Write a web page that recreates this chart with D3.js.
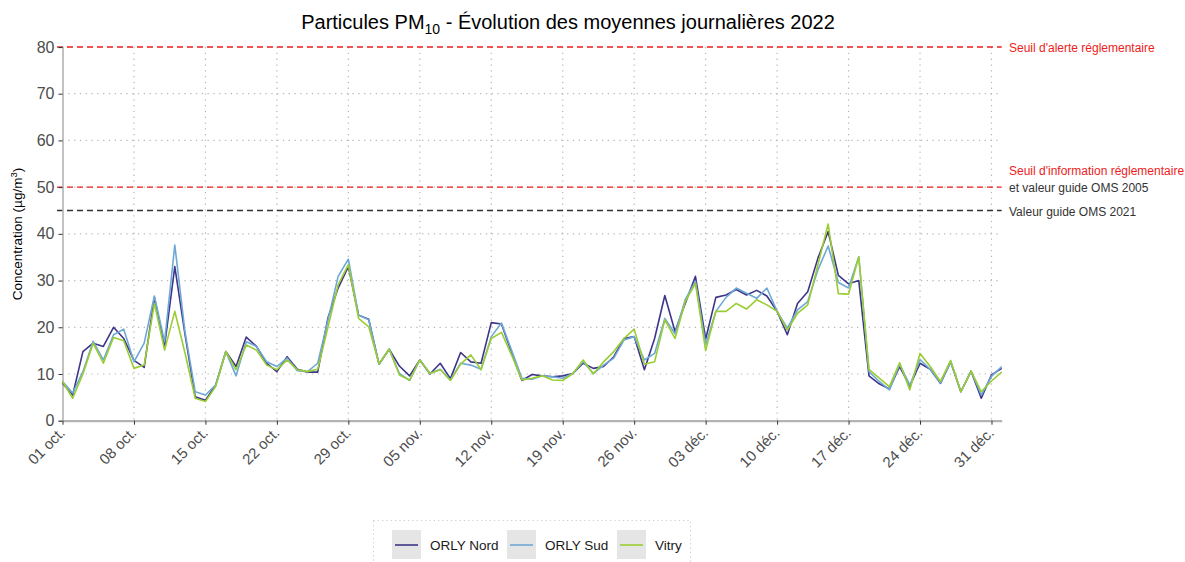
<!DOCTYPE html>
<html>
<head>
<meta charset="utf-8">
<script src="https://cdn.jsdelivr.net/npm/d3@7"></script>
<style>
  body { margin: 0; background: #fff; }
  svg { font-family: "Liberation Sans", Arial, sans-serif; }
</style>
</head>
<body>
<div id="chart"></div>
<script>
// Daily PM10 means, 1 Oct 2022 -> 1 Jan 2023
const startDate = new Date(2022, 9, 1);
const nDays = 93;

const orlyNord = [8.0, 5.5, 14.8, 16.6, 15.9, 20.0, 17.6, 12.9, 11.4, 26.4, 16.0, 33.0, 18.5, 5.1, 4.4, 7.6, 14.8, 11.6, 17.9, 15.9,
  12.3, 10.5, 13.7, 11.0, 10.4, 10.4, 22.0, 28.4, 33.0, 22.6, 21.7, 12.1, 15.3, 11.7, 9.6, 13.0, 10.0, 12.3, 9.0, 14.6,
  12.6, 12.3, 21.0, 20.7, 14.5, 8.6, 9.9, 9.6, 9.4, 9.6, 10.1, 12.3, 11.2, 11.6, 13.7, 17.6, 18.0, 10.9, 17.6, 26.8,
  19.1, 25.1, 30.9, 17.5, 26.4, 26.9, 28.1, 26.9, 27.9, 26.7, 23.4, 18.4, 25.1, 27.6, 34.8, 40.5, 31.1, 29.3, 30.0, 9.6,
  7.9, 6.8, 11.6, 7.4, 12.3, 11.0, 8.0, 12.6, 6.2, 10.6, 4.8, 9.8, 11.2];

const orlySud = [8.4, 5.9, 10.5, 17.0, 13.0, 18.4, 19.6, 12.6, 16.6, 26.7, 16.9, 37.6, 19.0, 6.2, 5.5, 7.6, 14.8, 9.6, 16.9, 15.9,
  12.6, 11.6, 13.4, 10.7, 10.5, 12.3, 21.5, 30.9, 34.6, 22.6, 21.6, 12.1, 15.3, 10.1, 8.6, 13.0, 10.1, 11.0, 8.7, 12.3,
  11.9, 11.0, 18.0, 20.9, 15.0, 9.1, 8.9, 9.6, 9.4, 9.1, 10.1, 12.6, 10.1, 11.9, 13.4, 17.3, 18.0, 13.0, 14.4, 21.9,
  18.6, 25.9, 29.8, 16.3, 23.4, 26.4, 28.4, 27.3, 26.2, 28.4, 23.4, 19.8, 23.7, 25.5, 32.3, 37.4, 29.6, 28.4, 35.1, 10.5,
  8.4, 6.6, 12.1, 7.6, 13.1, 11.0, 8.1, 12.6, 6.2, 10.6, 5.5, 9.5, 11.6];

const vitry = [8.4, 4.8, 10.0, 16.6, 12.3, 17.8, 17.1, 11.2, 11.9, 25.1, 15.1, 23.4, 14.5, 4.8, 4.1, 7.3, 14.8, 10.9, 16.2, 15.1,
  11.9, 10.9, 13.0, 10.9, 10.5, 11.0, 20.0, 29.1, 33.4, 21.9, 20.1, 12.2, 15.3, 9.8, 8.7, 13.0, 10.1, 10.9, 8.6, 12.1,
  14.1, 10.9, 17.6, 18.9, 14.0, 8.7, 9.1, 9.6, 8.7, 8.6, 10.1, 13.0, 10.0, 12.6, 14.8, 17.6, 19.6, 12.1, 12.6, 21.6,
  17.6, 25.5, 29.4, 15.0, 23.4, 23.4, 25.1, 23.9, 25.9, 24.8, 23.4, 19.4, 23.0, 24.8, 33.4, 42.1, 27.2, 27.1, 35.1, 11.0,
  9.1, 7.3, 12.4, 6.6, 14.4, 11.6, 8.4, 12.9, 6.2, 10.6, 6.2, 8.5, 10.4];

const seriesNames = ["ORLY Nord", "ORLY Sud", "Vitry"];
const seriesColors = ["#3d3589", "#6fa8d6", "#9acd32"];

const xTickLabels = ["01 oct.", "08 oct.", "15 oct.", "22 oct.", "29 oct.", "05 nov.", "12 nov.",
  "19 nov.", "26 nov.", "03 déc.", "10 déc.", "17 déc.", "24 déc.", "31 déc."];
const yTicks = [0, 10, 20, 30, 40, 50, 60, 70, 80];

const refLines = [
  { value: 80, color: "#ee1c1c" },
  { value: 50, color: "#ee1c1c" },
  { value: 45, color: "#333333" }
];

const width = 1185, height = 562;
const plotLeft = 62.5, plotRight = 1001.7, plotTop = 47, plotBottom = 420.7;

const dates = d3.range(nDays).map(i => d3.timeDay.offset(startDate, i));
const allSeries = [orlyNord, orlySud, vitry];

const x = d3.scaleTime()
  .domain([dates[0], dates[nDays - 1]])
  .range([plotLeft, plotRight]);
const y = d3.scaleLinear().domain([0, 80]).range([plotBottom, plotTop]);

const svg = d3.select("#chart").append("svg")
  .attr("width", width)
  .attr("height", height);

// title
const title = svg.append("text")
  .attr("x", 568)
  .attr("y", 29)
  .attr("text-anchor", "middle")
  .style("font-size", "20px")
  .style("fill", "#000");
title.append("tspan").text("Particules PM");
title.append("tspan").attr("dy", 5).style("font-size", "14px").text("10");
title.append("tspan").attr("dy", -5).text(" - Évolution des moyennes journalières 2022");

const tickDates = xTickLabels.map((d, i) => d3.timeDay.offset(startDate, i * 7));

// grid lines
const grid = svg.append("g")
  .attr("stroke", "#b8b8b8")
  .attr("stroke-width", 1.2)
  .attr("stroke-dasharray", "1.3,4.5");
grid.selectAll(".hg").data(yTicks.filter(v => v > 0 && v < 80)).join("line")
  .attr("x1", plotLeft).attr("x2", plotRight)
  .attr("y1", d => y(d)).attr("y2", d => y(d));
grid.selectAll(".vg").data(tickDates.slice(1)).join("line")
  .attr("x1", d => x(d)).attr("x2", d => x(d))
  .attr("y1", plotTop).attr("y2", plotBottom);

// reference lines
svg.append("g").selectAll("line").data(refLines).join("line")
  .attr("x1", 57).attr("x2", plotRight)
  .attr("y1", d => y(d.value)).attr("y2", d => y(d.value))
  .attr("stroke", d => d.color)
  .attr("stroke-width", 1.4)
  .attr("stroke-dasharray", "6,4");

// axes
const yAxis = svg.append("g")
  .attr("transform", `translate(${plotLeft},0)`)
  .call(d3.axisLeft(y).tickValues(yTicks).tickSize(4).tickPadding(4));
yAxis.select(".domain").attr("stroke", "#b3b3b3").attr("stroke-width", 1.6);
yAxis.selectAll(".tick line").attr("stroke", "#333");
yAxis.selectAll(".tick text")
  .style("font-size", "16px")
  .style("fill", "#4d4d4d")
  .attr("font-family", null);

const xAxis = svg.append("g")
  .attr("transform", `translate(0,${plotBottom})`)
  .call(d3.axisBottom(x).tickValues(tickDates).tickSize(4)
    .tickFormat((d, i) => xTickLabels[i]).tickSizeOuter(0));
xAxis.select(".domain").attr("stroke", "#b3b3b3").attr("stroke-width", 2.2);
xAxis.selectAll(".tick line").attr("stroke", "#333");
xAxis.selectAll(".tick text")
  .attr("font-family", null)
  .style("font-size", "15px")
  .style("fill", "#4d4d4d")
  .attr("text-anchor", "end")
  .attr("dy", null)
  .attr("y", 0)
  .attr("transform", "translate(3,13) rotate(-45)");

// y label
const yl = svg.append("text")
  .attr("transform", "translate(22,234) rotate(-90)")
  .attr("text-anchor", "middle")
  .style("font-size", "13.5px")
  .style("fill", "#000");
yl.append("tspan").text("Concentration (µg/m");
yl.append("tspan").attr("dy", -5).style("font-size", "9.5px").text("3");
yl.append("tspan").attr("dy", 5).text(")");

// series lines
const line = d3.line()
  .x((d, i) => x(dates[i]))
  .y(d => y(d));
svg.append("g").selectAll("path").data(allSeries).join("path")
  .attr("d", d => line(d))
  .attr("fill", "none")
  .attr("stroke", (d, i) => seriesColors[i])
  .attr("stroke-width", 1.6)
  .attr("stroke-linejoin", "round");

// right annotations
const notes = [
  { text: "Seuil d'alerte réglementaire", yy: 52, color: "#ee1c1c" },
  { text: "Seuil d'information réglementaire", yy: 175, color: "#ee1c1c" },
  { text: "et valeur guide OMS 2005", yy: 192, color: "#333" },
  { text: "Valeur guide OMS 2021", yy: 216, color: "#333" }
];
svg.append("g").selectAll("text").data(notes).join("text")
  .attr("x", 1009)
  .attr("y", d => d.yy)
  .style("font-size", "12px")
  .style("fill", d => d.color)
  .text(d => d.text);

// legend
const legend = svg.append("g");
legend.append("rect")
  .attr("x", 373.5).attr("y", 520.5)
  .attr("width", 317).attr("height", 60)
  .attr("fill", "none")
  .attr("stroke", "#cfcfcf")
  .attr("stroke-dasharray", "1.3,3");
const keyX = [392, 507, 617];
seriesNames.forEach((name, i) => {
  const g = legend.append("g").attr("transform", `translate(${keyX[i]},530)`);
  g.append("rect").attr("width", 29).attr("height", 29).attr("fill", "#e5e5e5");
  g.append("line").attr("x1", 3).attr("x2", 26).attr("y1", 15).attr("y2", 15)
    .attr("stroke", seriesColors[i]).attr("stroke-width", 1.6);
  g.append("text").attr("x", 38).attr("y", 20)
    .style("font-size", "13.5px").style("fill", "#1a1a1a").text(name);
});
</script>
</body>
</html>
